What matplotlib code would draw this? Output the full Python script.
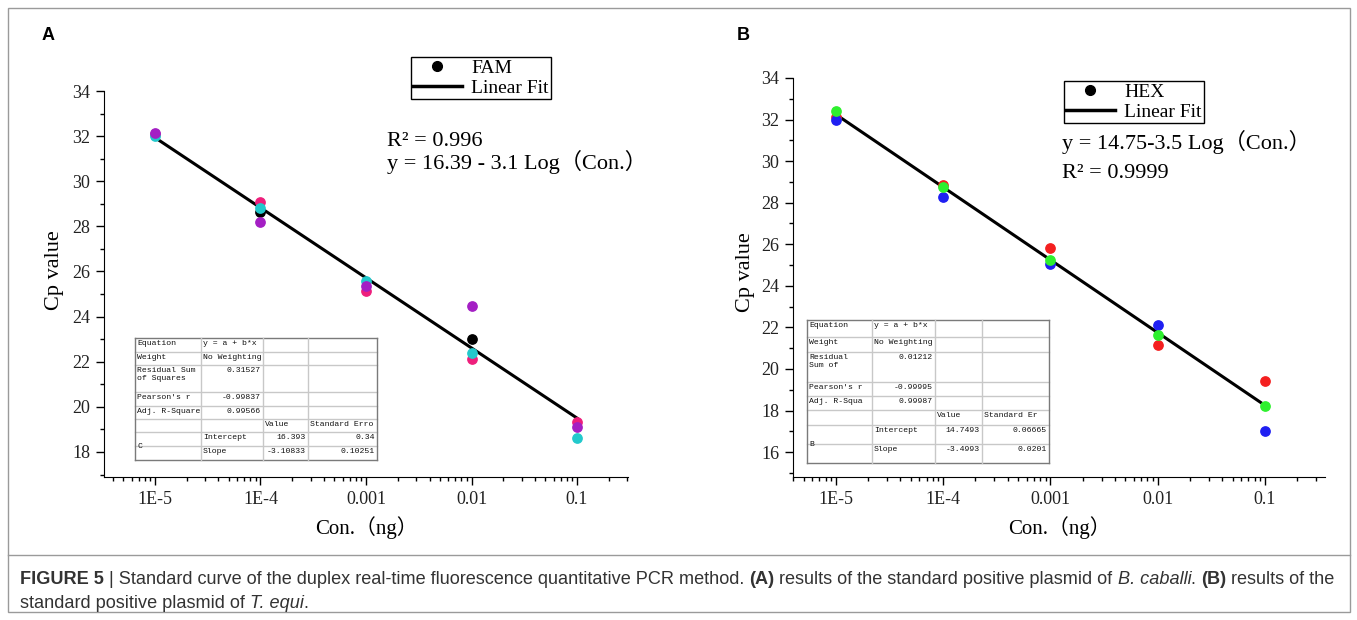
import matplotlib
matplotlib.use("Agg")
import matplotlib.pyplot as plt
from matplotlib.lines import Line2D
import numpy as np

# ---- data ----
conc = [1e-5, 1e-4, 1e-3, 1e-2, 1e-1]
xticklabels = ["1E-5", "1E-4", "0.001", "0.01", "0.1"]

# panel A (FAM)
fam_pink = [32.1, 29.1, 25.15, 22.1, 19.35]
fam_purple = [32.15, 28.2, 25.35, 24.45, 19.1]
fam_cyan = [32.0, 28.8, 25.6, 22.4, 18.6]
fam_black_x = [1e-4, 1e-2]
fam_black_y = [28.65, 23.0]
fam_a, fam_b = 16.393, -3.10833

# panel B (HEX)
hex_red = [32.1, 28.85, 25.8, 21.15, 19.4]
hex_green = [32.4, 28.75, 25.25, 21.65, 18.2]
hex_blue = [32.0, 28.25, 25.05, 22.1, 17.0]
hex_a, hex_b = 14.7493, -3.4993

tableA = [["Equation", "y = a + b*x", "", ""],
          ["Weight", "No Weighting", "", ""],
          ["Residual Sum\nof Squares", "0.31527", "", ""],
          ["Pearson's r", "-0.99837", "", ""],
          ["Adj. R-Square", "0.99566", "", ""],
          ["", "", "Value", "Standard Erro"],
          ["C", "Intercept", "16.393", "0.34"],
          ["", "Slope", "-3.10833", "0.10251"]]
tableB = [["Equation", "y = a + b*x", "", ""],
          ["Weight", "No Weighting", "", ""],
          ["Residual\nSum of", "0.01212", "", ""],
          ["Pearson's r", "-0.99995", "", ""],
          ["Adj. R-Squa", "0.99987", "", ""],
          ["", "", "Value", "Standard Er"],
          ["B", "Intercept", "14.7493", "0.06665"],
          ["", "Slope", "-3.4993", "0.0201"]]

W, H = 1357, 620
fig = plt.figure(figsize=(W / 100, H / 100), dpi=100)
serif = ["Liberation Serif", "Noto Sans CJK SC"]
mono = ["Liberation Mono", "DejaVu Sans Mono"]


def fx(px):
    return px / W


def fy(py):
    return 1 - py / H


def make_axes(left, right, top, bottom, ylim, xlim, yticks, ylab_pos):
    ax = fig.add_axes([fx(left), fy(bottom), fx(right - left), (bottom - top) / H])
    ax.set_xscale("log")
    ax.set_xlim(*xlim)
    ax.set_ylim(*ylim)
    ax.spines["top"].set_visible(False)
    ax.spines["right"].set_visible(False)
    ax.spines["left"].set_bounds(ylim[0], yticks[-1])
    ax.set_yticks(yticks)
    ax.set_yticks(np.arange(yticks[0] - 1, yticks[-1], 1), minor=True)
    ax.set_xticks(conc)
    ax.set_xticklabels(xticklabels)
    ax.tick_params(which="major", direction="out", length=6, width=1, pad=4)
    ax.tick_params(which="minor", direction="out", length=3, width=1)
    for lab in ax.get_xticklabels() + ax.get_yticklabels():
        lab.set_family(serif)
        lab.set_fontsize(13)
        lab.set_color("#222222")
    ax.set_xlabel("Con.（ng）", family=serif, fontsize=15, labelpad=6)
    ax.set_ylabel("Cp value", family=serif, fontsize=16)
    ax.yaxis.set_label_coords(*ylab_pos)
    return ax


def draw_table(rows, xs, ys):
    for i, y in enumerate(ys):
        col = "#7a7a7a" if i in (0, len(ys) - 1) else "#c8c8c8"
        fig.add_artist(Line2D([fx(xs[0]), fx(xs[-1])], [fy(y), fy(y)], color=col, lw=1.0))
    for j, x in enumerate(xs):
        col = "#7a7a7a" if j in (0, len(xs) - 1) else "#c8c8c8"
        fig.add_artist(Line2D([fx(x), fx(x)], [fy(ys[0]), fy(ys[-1])], color=col, lw=1.0))
    fig.patches.append(plt.Rectangle((fx(xs[0]), fy(ys[-1])), fx(xs[-1] - xs[0]),
                                     (ys[-1] - ys[0]) / H, transform=fig.transFigure,
                                     facecolor="white", edgecolor="none", zorder=0.5))
    for r, row in enumerate(rows):
        for c, txt in enumerate(row):
            if not txt:
                continue
            if c == 0 and r == 6:
                yy, va = (ys[6] + ys[8]) / 2, "center"
            else:
                yy, va = ys[r] + 2, "top"
            numeric = txt[0].isdigit() or txt[0] == "-"
            if numeric:
                xx, ha = xs[c + 1] - 2, "right"
            else:
                xx, ha = xs[c] + 2, "left"
            fig.text(fx(xx), fy(yy), txt, ha=ha, va=va, family=mono, fontsize=5.9,
                     linespacing=1.25, color="#111111", zorder=3)


def legend(ax, label, x0, y0):
    h = [Line2D([], [], ls="none", marker="o", color="black", markersize=7),
         Line2D([], [], color="black", lw=2.5)]
    lg = ax.legend(h, [label, "Linear Fit"], loc="upper left",
                   bbox_to_anchor=(fx(x0), fy(y0)), bbox_transform=fig.transFigure,
                   prop={"family": serif, "size": 14}, frameon=True, fancybox=False,
                   edgecolor="black", framealpha=1, handlelength=2.5,
                   borderpad=0.1, labelspacing=0.15, handletextpad=0.5,
                   borderaxespad=0)
    lg.get_frame().set_linewidth(1.0)


# ---- panel A ----
axA = make_axes(104, 628, 91, 477, (16.89, 34), (10 ** -5.483, 10 ** -0.517),
                [18, 20, 22, 24, 26, 28, 30, 32, 34], (-0.076, 0.536))
xf = np.array([conc[0], conc[-1]])
axA.plot(xf, fam_a + fam_b * np.log10(xf), color="black", lw=2.2, zorder=2)
axA.scatter(fam_black_x, fam_black_y, color="black", s=45, zorder=3)
axA.scatter(conc, fam_pink, color="#ee1f7c", s=45, zorder=3)
axA.scatter(conc, fam_cyan, color="#22c9cc", s=45, zorder=3)
axA.scatter(conc, fam_purple, color="#a41fc4", s=45, zorder=3)
legend(axA, "FAM", 411, 57)
fig.text(fx(387), fy(142), "R² = 0.996", family=serif, fontsize=16, va="center")
fig.text(fx(387), fy(162), "y = 16.39 - 3.1 Log（Con.）", family=serif, fontsize=16, va="center")
draw_table(tableA, [135, 201, 263, 308, 377], [338, 352, 365, 392, 406, 419, 432, 446, 460])

# ---- panel B ----
axB = make_axes(793, 1325, 78, 477, (14.8, 34), (10 ** -5.40, 10 ** -0.44),
                [16, 18, 20, 22, 24, 26, 28, 30, 32, 34], (-0.071, 0.514))
axB.plot(xf, hex_a + hex_b * np.log10(xf), color="black", lw=2.2, zorder=2)
axB.scatter(conc, hex_red, color="#f41f1f", s=45, zorder=3)
axB.scatter(conc, hex_blue, color="#1f1ff2", s=45, zorder=3)
axB.scatter(conc, hex_green, color="#2ef02e", s=45, zorder=3)
legend(axB, "HEX", 1064, 81)
fig.text(fx(1062), fy(142), "y = 14.75-3.5 Log（Con.）", family=serif, fontsize=16, va="center")
fig.text(fx(1062), fy(173), "R² = 0.9999", family=serif, fontsize=16, va="center")
draw_table(tableB, [807, 872, 935, 982, 1049], [320, 337, 352, 382, 396, 410, 425, 444, 463])

# panel letters
fig.text(fx(42), fy(35), "A", family="Liberation Sans", fontsize=13, weight="bold", va="center")
fig.text(fx(737), fy(35), "B", family="Liberation Sans", fontsize=13, weight="bold", va="center")

# frame and separator
fig.add_artist(plt.Rectangle((fx(8), fy(612)), fx(1342), (612 - 8) / H, transform=fig.transFigure,
                             fill=False, edgecolor="#9a9a9a", lw=1))
fig.add_artist(Line2D([fx(8), fx(1350)], [fy(555), fy(555)], color="#9a9a9a", lw=1))

# caption
cap1 = [("FIGURE 5", "bold", "normal"),
        (" | Standard curve of the duplex real-time fluorescence quantitative PCR method. ", "normal", "normal"),
        ("(A)", "bold", "normal"),
        (" results of the standard positive plasmid of ", "normal", "normal"),
        ("B. caballi", "normal", "italic"),
        (". ", "normal", "normal"),
        ("(B)", "bold", "normal"),
        (" results of the", "normal", "normal")]
cap2 = [("standard positive plasmid of ", "normal", "normal"),
        ("T. equi", "normal", "italic"),
        (".", "normal", "normal")]
renderer = fig.canvas.get_renderer()

# measure line 1 at a trial size, then scale so it spans the reference width
trial = 12.0
total = 0
for txt, wt, st in cap1:
    t = fig.text(0, 0, txt, family="Liberation Sans", fontsize=trial, weight=wt, style=st)
    total += t.get_window_extent(renderer).width
    t.remove()
capsize = trial * 1317 / total

for line, ypos in ((cap1, 580), (cap2, 604)):
    x = 20
    for txt, wt, st in line:
        t = fig.text(fx(x), fy(ypos), txt, family="Liberation Sans", fontsize=capsize,
                     weight=wt, style=st, va="center", color="#333333")
        x += t.get_window_extent(renderer).width

fig.savefig("out.png", dpi=100)
